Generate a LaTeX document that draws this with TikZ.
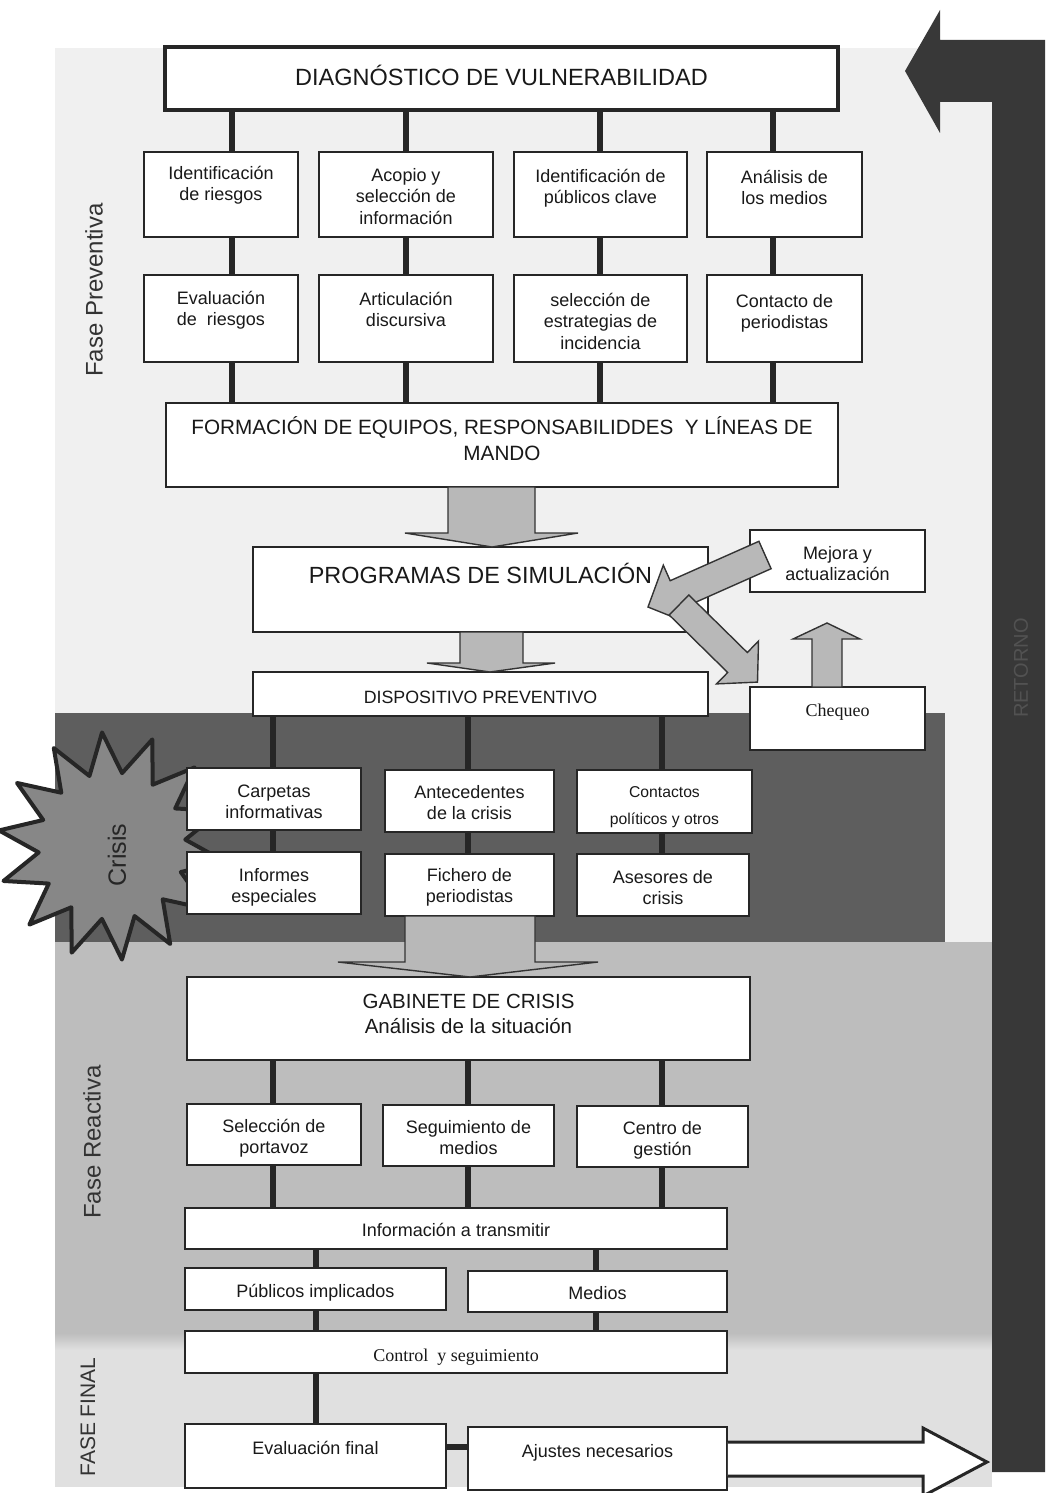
\documentclass[tikz,border=0pt]{standalone}
\usepackage{fontspec}
\setmainfont{Liberation Sans}
\newfontfamily\timesf{Liberation Serif}
\usetikzlibrary{shapes.geometric,fit}
\pgfdeclarelayer{bg}\pgfdeclarelayer{links}
\pgfsetlayers{bg,links,main}
\newcommand\fs[2]{\fontsize{#1}{#2}\selectfont}
\newcommand\lstrut{\rule{0pt}{0.83em}}
\begin{document}
\begin{tikzpicture}[x=1pt,y=-1pt,
 box/.style={draw=black!85, line width=1.6pt, fill=white, inner sep=0pt},
 tx/.style={anchor=north, align=center, inner sep=0pt, text=black!90, font=\fs{18}{21.5}},
 link/.style={draw=black!85, line width=6.5pt},
 garrow/.style={fill=black!28, draw=black!80, line width=1.4pt, line join=miter},
 phase/.style={rotate=90, inner sep=0pt, text=black!80, font=\fs{24}{28}}]
\useasboundingbox (0,0) rectangle (1045,1493);
\begin{pgfonlayer}{bg}
\fill[white] (0,0) rectangle (1045,1493);
\fill[black!6] (55,48) rectangle (992,1487);
\fill[black!63] (55,713) rectangle (945,942);
\fill[black!26] (55,942) rectangle (992,1333);
\shade[top color=black!26, bottom color=black!12] (55,1333) rectangle (992,1350);
\fill[black!12] (55,1350) rectangle (992,1487);
\end{pgfonlayer}
% return arrow
\fill[black!78] (992,1472) -- (992,102) -- (940,102) -- (940,133) -- (905,71) -- (940,10) -- (940,40) -- (1045,40) -- (1045,1472) -- cycle;
\node[rotate=90, text=black!68, font=\fs{20}{24}] (ret) at (1021,668) {RETORNO};
% crisis star
\node[star, star points=14, star point ratio=1.55, minimum size=228pt, inner sep=0pt, fill=black!47, draw=black!85, line width=4pt, line join=round, rotate=5] (star) at (112,846) {};
\node[phase, font=\fs{25}{30}, text=black!85] (cr) at (117,855) {Crisis};
% phase labels
\node[phase] (fp) at (94,290) {Fase Preventiva};
\node[phase] (fr) at (92,1142) {Fase Reactiva};
\node[phase, font=\fs{21}{25}] (ff) at (88,1417) {FASE FINAL};
% top part
\node[box, line width=4pt, fit={(165,47)(838,110)}] (diag) {};
\node[tx, font=\fs{23.5}{28}] (tdiag) at ([yshift=-20pt]diag.north) {\lstrut DIAGN\'OSTICO DE VULNERABILIDAD};
\node[box, fit={(144,152)(298,237)}] (b11) {};
\node[box, fit={(319,152)(493,237)}] (b12) {};
\node[box, fit={(514,152)(687,237)}] (b13) {};
\node[box, fit={(707,152)(862,237)}] (b14) {};
\node[box, fit={(144,275)(298,362)}] (b21) {};
\node[box, fit={(319,275)(493,362)}] (b22) {};
\node[box, fit={(514,275)(687,362)}] (b23) {};
\node[box, fit={(707,275)(862,362)}] (b24) {};
\node[tx] (t11) at ([yshift=-13pt]b11.north) {\lstrut Identificación\\de riesgos};
\node[tx] (t12) at ([yshift=-15pt]b12.north) {\lstrut Acopio y\\selección de\\información};
\node[tx] (t13) at ([yshift=-16pt]b13.north) {\lstrut Identificación de\\públicos clave};
\node[tx] (t14) at ([yshift=-17pt]b14.north) {\lstrut Análisis de\\los medios};
\node[tx] (t21) at ([yshift=-15pt]b21.north) {\lstrut Evaluación\\de\ \ riesgos};
\node[tx] (t22) at ([yshift=-16pt]b22.north) {\lstrut Articulación\\discursiva};
\node[tx] (t23) at ([yshift=-17pt]b23.north) {\lstrut selección de\\estrategias de\\incidencia};
\node[tx] (t24) at ([yshift=-18pt]b24.north) {\lstrut Contacto de\\periodistas};
\node[box, fit={(166,403)(838,487)}] (form) {};
\node[tx, font=\fs{20.7}{26}] (tform) at ([yshift=-14pt]form.north) {\lstrut FORMACIÓN DE EQUIPOS, RESPONSABILIDDES\ \ Y LÍNEAS DE\\MANDO};
\node[box, fit={(253,547)(708,632)}] (prog) {};
\node[tx, font=\fs{23.4}{28}] (tprog) at ([yshift=-17pt]prog.north) {\lstrut PROGRAMAS DE SIMULACIÓN};
\node[box, fit={(253,672)(708,716)}] (disp) {};
\node[tx, font=\fs{17.8}{21}] (tdisp) at ([yshift=-17pt]disp.north) {\lstrut DISPOSITIVO PREVENTIVO};
\node[box, fit={(750,530)(925,592)}] (mej) {};
\node[tx] (tmej) at ([yshift=-15pt]mej.north) {\lstrut Mejora y\\actualización};
\node[box, fit={(750,687)(925,750)}] (cheq) {};
\node[tx, font=\timesf\fs{18}{21}] (tcheq) at ([yshift=-15.5pt]cheq.north) {\lstrut Chequeo};
% crisis boxes
\node[box, fit={(187,768)(361,830)}] (carp) {};
\node[box, fit={(385,770)(554,832)}] (ante) {};
\node[box, fit={(577,770)(752,833)}] (cont) {};
\node[box, fit={(187,852)(361,914)}] (infe) {};
\node[box, fit={(385,854)(554,916)}] (fich) {};
\node[box, fit={(577,854)(749,916)}] (ases) {};
\node[tx] (tcarp) at ([yshift=-15pt]carp.north) {\lstrut Carpetas\\informativas};
\node[tx] (tante) at ([yshift=-14pt]ante.north) {\lstrut Antecedentes\\de la crisis};
\node[tx, font=\fs{15.7}{27}] (tcont) at ([yshift=-15pt]cont.north) {\lstrut Contactos\\políticos y otros};
\node[tx] (tinfe) at ([yshift=-15pt]infe.north) {\lstrut Informes\\especiales};
\node[tx] (tfich) at ([yshift=-13pt]fich.north) {\lstrut Fichero de\\periodistas};
\node[tx] (tases) at ([yshift=-15pt]ases.north) {\lstrut Asesores de\\crisis};
% reactive
\node[box, fit={(187,977)(750,1060)}] (gab) {};
\node[tx, font=\fs{20.5}{25}] (tgab) at ([yshift=-15pt]gab.north) {\lstrut GABINETE DE CRISIS\\Análisis de la situación};
\node[box, fit={(187,1104)(361,1165)}] (sel) {};
\node[box, fit={(383,1105)(554,1166)}] (seg) {};
\node[box, fit={(577,1106)(748,1167)}] (cen) {};
\node[tx] (tsel) at ([yshift=-14pt]sel.north) {\lstrut Selección de\\portavoz};
\node[tx] (tseg) at ([yshift=-14pt]seg.north) {\lstrut Seguimiento de\\medios};
\node[tx] (tcen) at ([yshift=-14pt]cen.north) {\lstrut Centro de\\gestión};
\node[box, fit={(185,1208)(727,1249)}] (itr) {};
\node[tx] (titr) at ([yshift=-14pt]itr.north) {\lstrut Información a transmitir};
\node[box, fit={(185,1268)(446,1310)}] (pub) {};
\node[tx] (tpub) at ([yshift=-15pt]pub.north) {\lstrut Públicos implicados};
\node[box, fit={(468,1271)(727,1312)}] (med) {};
\node[tx] (tmed) at ([yshift=-14pt]med.north) {\lstrut Medios};
\node[box, fit={(185,1331)(727,1373)}] (ctrl) {};
\node[tx, font=\timesf\fs{18}{21}] (tctrl) at ([yshift=-16.5pt]ctrl.north) {\lstrut Control\ \ y seguimiento};
\node[box, fit={(185,1424)(446,1488)}] (eval) {};
\node[tx] (teval) at ([yshift=-16pt]eval.north) {\lstrut Evaluación final};
\node[box, fit={(468,1427)(727,1490)}] (ajus) {};
\node[tx] (tajus) at ([yshift=-16pt]ajus.north) {\lstrut Ajustes necesarios};
% connectors
\coordinate (k1) at (232,0); \coordinate (k2) at (406,0);
\coordinate (k3) at (600,0); \coordinate (k4) at (773,0);
\coordinate (m1) at (273,0); \coordinate (m2) at (468,0); \coordinate (m3) at (662,0);
\coordinate (n1) at (316,0); \coordinate (n2) at (596,0);
\coordinate (ly) at (0,1447);
\begin{pgfonlayer}{links}
\foreach \k in {k1,k2,k3,k4} \draw[link] (diag.south -| \k) -- (form.north -| \k);
\draw[link] (disp.south -| m1) -- (infe.north -| m1);
\draw[link] (disp.south -| m2) -- (fich.north -| m2);
\draw[link] (disp.south -| m3) -- (ases.north -| m3);
\foreach \k in {m1,m2,m3} \draw[link] (gab.south -| \k) -- (itr.north -| \k);
\foreach \k in {n1,n2} \draw[link] (itr.south -| \k) -- (ctrl.north -| \k);
\draw[link] (ctrl.south -| n1) -- (eval.north -| n1);
\draw[link] (eval.east |- ly) -- (ajus.west |- ly);
\end{pgfonlayer}
% gray block arrows
\draw[garrow] (448,487) -- (448,533) -- (405,533) -- (492,547) -- (578,533) -- (535,533) -- (535,487) -- cycle;
\draw[garrow] (460,632) -- (460,663) -- (427,663) -- (490,672) -- (555,663) -- (523,663) -- (523,632) -- cycle;
\draw[garrow] (405,916) -- (405,962) -- (338,962) -- (470,977) -- (598,962) -- (535,962) -- (535,916) -- cycle;
\draw[garrow] (812,687) -- (812,639) -- (793,639) -- (827,623) -- (860,639) -- (842,639) -- (842,687) -- cycle;
\draw[garrow] (758.9,541.3) -- (670.2,580.7) -- (663.3,565.2) -- (648,607) -- (689.3,623.6) -- (682.4,608.1) -- (771.1,568.7) -- cycle;
\draw[garrow] (688.8,595) -- (747.3,652.5) -- (758.5,641.1) -- (757.5,682.1) -- (716.5,683.9) -- (727.7,672.5) -- (669.2,615) -- cycle;
% white output arrow
\draw[fill=white, draw=black!85, line width=3pt, line join=miter] (ajus.east |- 0,1442) -- (923,1442) -- (923,1428) -- (987,1462) -- (923,1496) -- (923,1476) -- (ajus.east |- 0,1476);
\end{tikzpicture}
\end{document}
